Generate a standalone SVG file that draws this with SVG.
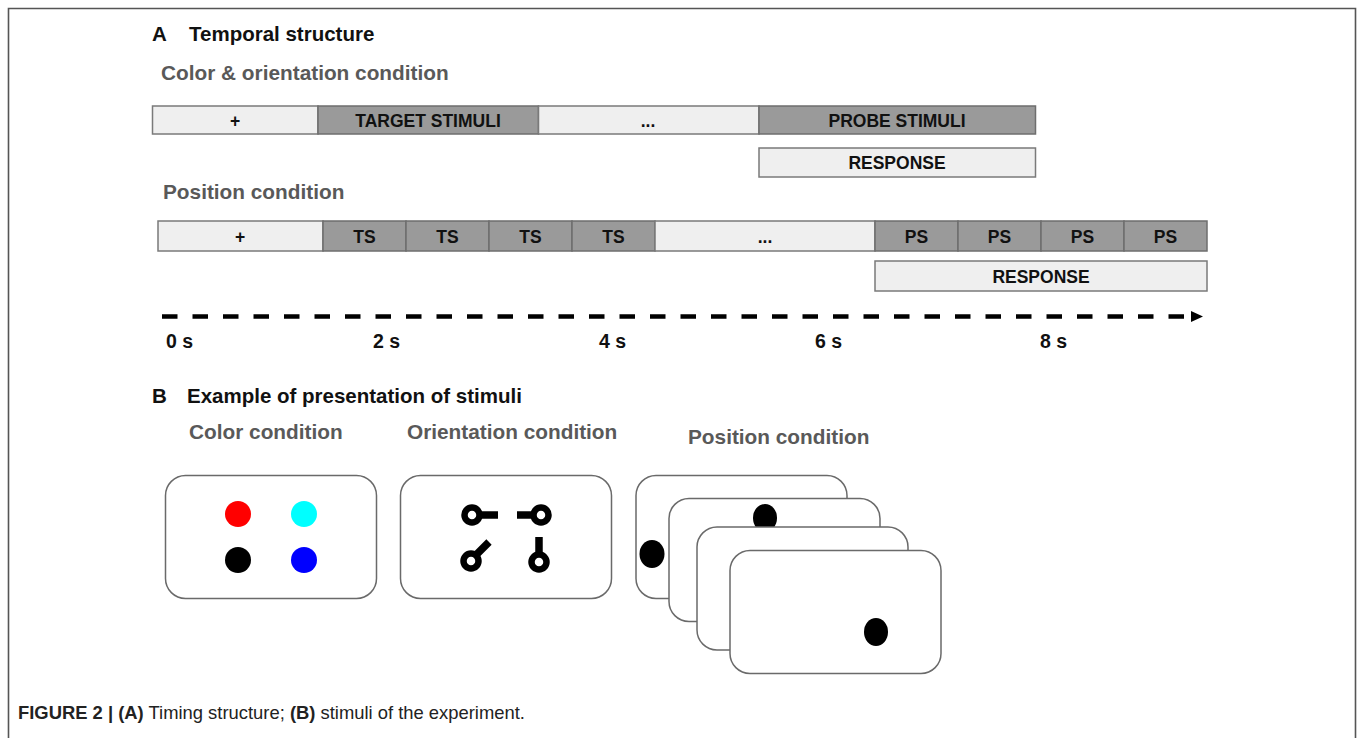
<svg xmlns="http://www.w3.org/2000/svg" width="1360" height="738" viewBox="0 0 1360 738">
<defs>
<style>
.t{font-family:"Liberation Sans",Arial,sans-serif;font-weight:bold;fill:#111}
.h{font-size:20.5px}
.sub{font-size:20.8px;fill:#595959}
.bl{font-size:17.5px;text-anchor:middle}
.tk{font-size:19.5px}
.lt{fill:#efefef;stroke:#7a7a7a;stroke-width:1.5}
.dk{fill:#9a9a9a;stroke:#6e6e6e;stroke-width:1.5}
.card{fill:#fff;stroke:#6a6a6a;stroke-width:1.5}
.ring{fill:none;stroke:#000;stroke-width:6.5}
.stem{stroke:#000;stroke-width:7.5;stroke-linecap:butt}
.cap{font-family:"Liberation Sans",Arial,sans-serif;font-size:18.4px;fill:#222}
</style>
</defs>
<rect x="0" y="0" width="1360" height="738" fill="#fff"/>
<path d="M8.5,745 V8.5 H1355.5 V745" fill="none" stroke="#555" stroke-width="1.6"/>

<g id="titleA">
<text class="t h" x="152" y="41">A</text>
<text class="t h" x="189" y="41">Temporal structure</text>
</g>
<text class="t sub" x="161" y="80">Color &amp; orientation condition</text>

<g id="row1">
<g id="r1-fix"><rect class="lt" x="152.5" y="106" width="165.5" height="28"/><text class="t bl" x="235" y="126.5">+</text></g>
<g id="r1-target"><rect class="dk" x="318" y="106" width="220.5" height="28"/><text class="t bl" x="428" y="126.5">TARGET STIMULI</text></g>
<g id="r1-delay"><rect class="lt" x="538.5" y="106" width="220.5" height="28"/><text class="t bl" x="648" y="126.5">...</text></g>
<g id="r1-probe"><rect class="dk" x="759" y="106" width="276.5" height="28"/><text class="t bl" x="897" y="126.5">PROBE STIMULI</text></g>
<g id="r1-response"><rect class="lt" x="759" y="148" width="276.5" height="29"/><text class="t bl" x="897" y="168.5">RESPONSE</text></g>
</g>

<text class="t sub" x="163" y="199">Position condition</text>

<g id="row2">
<g id="r2-fix"><rect class="lt" x="158" y="221" width="165" height="30"/><text class="t bl" x="240" y="242.5">+</text></g>
<g id="r2-ts1"><rect class="dk" x="323" y="221" width="83" height="30"/><text class="t bl" x="364.5" y="242.5">TS</text></g>
<g id="r2-ts2"><rect class="dk" x="406" y="221" width="83" height="30"/><text class="t bl" x="447.5" y="242.5">TS</text></g>
<g id="r2-ts3"><rect class="dk" x="489" y="221" width="83" height="30"/><text class="t bl" x="530.5" y="242.5">TS</text></g>
<g id="r2-ts4"><rect class="dk" x="572" y="221" width="83" height="30"/><text class="t bl" x="613.5" y="242.5">TS</text></g>
<g id="r2-delay"><rect class="lt" x="655" y="221" width="220" height="30"/><text class="t bl" x="765" y="242.5">...</text></g>
<g id="r2-ps1"><rect class="dk" x="875" y="221" width="83" height="30"/><text class="t bl" x="916.5" y="242.5">PS</text></g>
<g id="r2-ps2"><rect class="dk" x="958" y="221" width="83" height="30"/><text class="t bl" x="999.5" y="242.5">PS</text></g>
<g id="r2-ps3"><rect class="dk" x="1041" y="221" width="83" height="30"/><text class="t bl" x="1082.5" y="242.5">PS</text></g>
<g id="r2-ps4"><rect class="dk" x="1124" y="221" width="83" height="30"/><text class="t bl" x="1165.5" y="242.5">PS</text></g>
<g id="r2-response"><rect class="lt" x="875" y="261" width="332" height="30"/><text class="t bl" x="1041" y="282.5">RESPONSE</text></g>
</g>

<g id="connectors">
<line x1="162" y1="316.5" x2="1192" y2="316.5" stroke="#000" stroke-width="4.5" stroke-dasharray="15.5 15"/>
<path d="M1191,311 L1203,316.5 L1191,322 Z" fill="#000"/>
</g>

<g id="ticks">
<text class="t tk" x="166" y="348">0 s</text>
<text class="t tk" x="373" y="348">2 s</text>
<text class="t tk" x="599" y="348">4 s</text>
<text class="t tk" x="815" y="348">6 s</text>
<text class="t tk" x="1040" y="348">8 s</text>
</g>

<g id="titleB">
<text class="t h" x="152" y="403">B</text>
<text class="t h" x="187" y="403">Example of presentation of stimuli</text>
</g>

<g id="color-condition">
<text class="t sub" x="189" y="439">Color condition</text>
<rect class="card" x="165.5" y="475.5" width="211" height="123" rx="20"/>
<circle cx="238" cy="514" r="13" fill="#f00"/>
<circle cx="304" cy="514" r="13" fill="#0ff"/>
<circle cx="238" cy="560" r="13" fill="#000"/>
<circle cx="304" cy="560" r="13" fill="#00f"/>
</g>

<g id="orientation-condition">
<text class="t sub" x="407" y="439">Orientation condition</text>
<rect class="card" x="400.5" y="475.5" width="211" height="123" rx="20"/>
<circle class="ring" cx="472" cy="515" r="7.5"/>
<line class="stem" x1="480" y1="515" x2="498" y2="515"/>
<circle class="ring" cx="541" cy="515" r="7.5"/>
<line class="stem" x1="517" y1="515" x2="533" y2="515"/>
<circle class="ring" cx="471" cy="561" r="7.5"/>
<line class="stem" x1="476" y1="555" x2="489" y2="542"/>
<circle class="ring" cx="539" cy="562" r="7.5"/>
<line class="stem" x1="539" y1="554" x2="539" y2="537"/>
</g>

<g id="position-condition">
<text class="t sub" x="688" y="444">Position condition</text>
<rect class="card" x="636" y="475.5" width="211" height="123" rx="20"/>
<ellipse cx="652" cy="554" rx="12.5" ry="14" fill="#000"/>
<rect class="card" x="669" y="498.5" width="211" height="123" rx="20"/>
<ellipse cx="765" cy="518" rx="12" ry="14" fill="#000"/>
<rect class="card" x="697" y="527" width="211" height="123" rx="20"/>
<rect class="card" x="730" y="550.5" width="211" height="123" rx="20"/>
<ellipse cx="876" cy="632" rx="12" ry="14" fill="#000"/>
</g>

<g id="caption">
<text class="cap" x="18" y="719"><tspan font-weight="bold">FIGURE 2 | (A)</tspan> Timing structure; <tspan font-weight="bold">(B)</tspan> stimuli of the experiment.</text>
</g>
</svg>
